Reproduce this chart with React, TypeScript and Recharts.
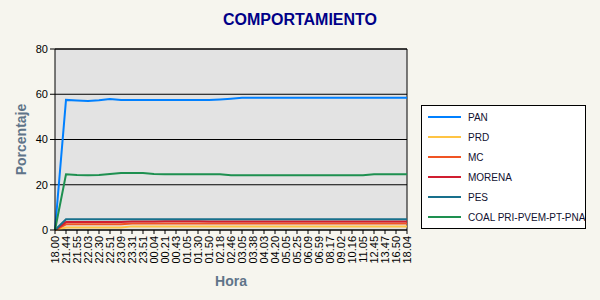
import React from 'react';
import { LineChart, Line, XAxis, YAxis, CartesianGrid, ReferenceLine } from 'recharts';

const horas = [
  '18.00', '21.44', '21.55', '22.03', '22.30', '22.51', '23.09', '23.31', '23.51', '00.04', '00.21',
  '00.43', '01.05', '01.30', '01.50', '02.18', '02.46', '03.05', '03.38', '04.03', '04.20', '05.05',
  '05.25', '06.09', '06.59', '08.17', '09.02', '10.16', '11.05', '12.45', '13.47', '16.50', '18.04',
];

const pan = [
  0, 57.5, 57.2, 57.0, 57.3, 57.9, 57.5, 57.5, 57.5, 57.5, 57.5,
  57.5, 57.5, 57.5, 57.5, 57.7, 58.0, 58.4, 58.5, 58.5, 58.5, 58.5,
  58.5, 58.5, 58.5, 58.5, 58.5, 58.5, 58.5, 58.5, 58.5, 58.5, 58.5,
];
const prd = [
  0, 1.1, 1.1, 1.1, 1.1, 1.1, 1.1, 1.6, 1.6, 1.6, 1.6,
  1.6, 1.6, 1.6, 1.6, 1.6, 1.6, 1.6, 1.6, 1.6, 1.6, 1.6,
  1.6, 1.6, 1.6, 1.6, 1.6, 1.6, 1.6, 1.6, 1.6, 1.6, 1.6,
];
const mc = [
  0, 2.5, 2.5, 2.5, 2.5, 2.5, 2.5, 2.9, 2.9, 2.9, 2.9,
  2.9, 2.9, 2.9, 2.9, 2.9, 2.9, 2.9, 2.9, 2.9, 2.9, 2.9,
  2.9, 2.9, 2.9, 2.9, 2.9, 2.9, 2.9, 2.9, 2.9, 2.9, 2.9,
];
const morena = [
  0, 3.5, 3.5, 3.5, 3.5, 3.5, 3.5, 3.8, 3.8, 3.8, 3.9,
  3.9, 3.9, 3.9, 3.8, 3.8, 3.8, 3.8, 3.8, 3.8, 3.8, 3.8,
  3.8, 3.8, 3.8, 3.8, 3.8, 3.8, 3.8, 3.8, 3.8, 3.8, 3.8,
];
const pes = [
  0, 4.7, 4.7, 4.7, 4.7, 4.7, 4.7, 4.7, 4.7, 4.7, 4.7,
  4.7, 4.7, 4.7, 4.7, 4.7, 4.7, 4.7, 4.7, 4.7, 4.7, 4.7,
  4.7, 4.7, 4.7, 4.7, 4.7, 4.7, 4.7, 4.7, 4.7, 4.7, 4.7,
];
const coal = [
  0, 24.6, 24.3, 24.2, 24.3, 24.8, 25.2, 25.2, 25.2, 24.8, 24.6,
  24.6, 24.6, 24.6, 24.6, 24.6, 24.2, 24.2, 24.2, 24.2, 24.2, 24.2,
  24.2, 24.2, 24.2, 24.2, 24.2, 24.2, 24.2, 24.6, 24.6, 24.6, 24.6,
];

const yTicks = [0, 20, 40, 60, 80];

const series = [
  { key: 'PAN', values: pan, color: '#0080FF' },
  { key: 'PRD', values: prd, color: '#FFC444' },
  { key: 'MC', values: mc, color: '#F05424' },
  { key: 'MORENA', values: morena, color: '#D01E30' },
  { key: 'PES', values: pes, color: '#18708C' },
  { key: 'COAL PRI-PVEM-PT-PNA', values: coal, color: '#1E9050' },
];

const data = horas.map((h, i) => {
  const row: Record<string, string | number> = { hora: h };
  series.forEach(s => { row[s.key] = s.values[i]; });
  return row;
});

const font = 'Arial, "Liberation Sans", sans-serif';

const HoraTick = ({ x, y, payload }: any) => (
  <text
    x={x}
    y={y}
    transform={`rotate(-90, ${x}, ${y})`}
    textAnchor="end"
    dy={4}
    fontSize={11}
    fontFamily={font}
    fill="#000"
  >
    {payload.value}
  </text>
);

export default function App() {
  return (
    <div style={{ position: 'absolute', left: 0, top: 0, width: 600, height: 300, background: '#F6F5EE', fontFamily: font }}>
      <div style={{ position: 'absolute', top: 11, width: 600, textAlign: 'center', fontSize: 16, fontWeight: 'bold', color: '#000088' }}>
        COMPORTAMIENTO
      </div>
      <LineChart width={600} height={300} data={data} margin={{ top: 49, right: 193, left: 0, bottom: 0 }}>
        <CartesianGrid vertical={false} stroke="#000" fill="#E3E3E3" fillOpacity={1} />
        <XAxis
          dataKey="hora"
          interval={0}
          height={70}
          tickSize={4}
          tickLine={{ stroke: '#000' }}
          axisLine={{ stroke: '#000' }}
          tick={<HoraTick />}
          label={{ value: 'Hora', position: 'insideBottom', offset: 14, fill: '#5F7489', fontSize: 14, fontWeight: 'bold', fontFamily: font }}
        />
        <YAxis
          width={55}
          domain={[0, 80]}
          ticks={yTicks}
          tickSize={5}
          tickLine={{ stroke: '#000' }}
          axisLine={{ stroke: '#000' }}
          tick={{ fontSize: 11, fill: '#000', fontFamily: font }}
          label={{ value: 'Porcentaje', angle: -90, position: 'center', dx: -6, fill: '#5F7489', fontSize: 14, fontWeight: 'bold', fontFamily: font }}
        />
        <ReferenceLine y={80} stroke="#000" />
        <ReferenceLine x="18.04" stroke="#000" />
        {series.map(s => (
          <Line
            key={s.key}
            type="linear"
            dataKey={s.key}
            stroke={s.color}
            strokeWidth={2}
            dot={false}
            isAnimationActive={false}
          />
        ))}
      </LineChart>
      <div style={{ position: 'absolute', left: 421, top: 105, width: 163, height: 122, background: '#fff', border: '1px solid #000' }}>
        {series.map((s, i) => (
          <div key={s.key} style={{ position: 'absolute', left: 6, top: 4 + i * 20, height: 14, display: 'flex', alignItems: 'center' }}>
            <div style={{ width: 33, height: 2, background: s.color }} />
            <span style={{ marginLeft: 7, fontSize: 10, color: '#101030', whiteSpace: 'nowrap' }}>{s.key}</span>
          </div>
        ))}
      </div>
    </div>
  );
}
